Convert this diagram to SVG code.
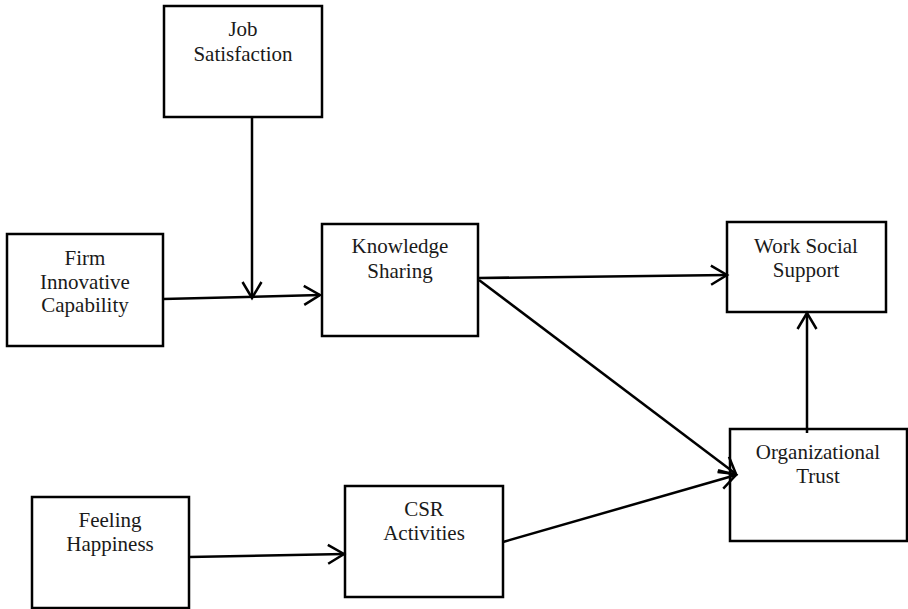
<svg xmlns="http://www.w3.org/2000/svg" width="908" height="609" viewBox="0 0 908 609">
<style>
.box{fill:#fff;stroke:#000;stroke-width:2.5}
.t{font-family:"Liberation Serif","Times New Roman",serif;font-size:21px;fill:#1a1a1a;text-anchor:middle}
.c{fill:none;stroke:#000;stroke-width:2.5}
</style>
<defs>
<marker id="arr" markerWidth="22" markerHeight="22" refX="18" refY="11" orient="auto" markerUnits="userSpaceOnUse">
<path d="M2,1.5 L18,11 L2,20.5" fill="none" stroke="#000" stroke-width="2.5"/>
</marker>
</defs>
<rect width="908" height="609" fill="#fff"/>
<g id="job-satisfaction"><rect class="box" x="164" y="6" width="158" height="111"/><text class="t" x="243" y="36">Job</text><text class="t" x="243" y="61">Satisfaction</text></g>
<g id="firm-innovative-capability"><rect class="box" x="7" y="234" width="156" height="112"/><text class="t" x="85" y="265">Firm</text><text class="t" x="85" y="289">Innovative</text><text class="t" x="85" y="312">Capability</text></g>
<g id="knowledge-sharing"><rect class="box" x="322" y="224" width="156" height="112"/><text class="t" x="400" y="253">Knowledge</text><text class="t" x="400" y="278">Sharing</text></g>
<g id="work-social-support"><rect class="box" x="727" y="222" width="159" height="90"/><text class="t" x="806" y="253">Work Social</text><text class="t" x="806" y="277">Support</text></g>
<g id="organizational-trust"><rect class="box" x="730" y="429" width="177" height="112"/><text class="t" x="818" y="459">Organizational</text><text class="t" x="818" y="483">Trust</text></g>
<g id="feeling-happiness"><rect class="box" x="32" y="497" width="157" height="111"/><text class="t" x="110" y="527">Feeling</text><text class="t" x="110" y="551">Happiness</text></g>
<g id="csr-activities"><rect class="box" x="345" y="486" width="158" height="111"/><text class="t" x="424" y="516">CSR</text><text class="t" x="424" y="540">Activities</text></g>
<g id="connectors">
<line class="c" x1="252" y1="117" x2="252" y2="298" marker-end="url(#arr)"/>
<line class="c" x1="163" y1="299" x2="320" y2="295" marker-end="url(#arr)"/>
<line class="c" x1="479" y1="278" x2="727" y2="275" marker-end="url(#arr)"/>
<line class="c" x1="479" y1="280" x2="736" y2="474" marker-end="url(#arr)"/>
<line class="c" x1="503" y1="542" x2="736" y2="475" marker-end="url(#arr)"/>
<line class="c" x1="189" y1="557" x2="344" y2="554" marker-end="url(#arr)"/>
<line class="c" x1="807" y1="433" x2="807" y2="313" marker-end="url(#arr)"/>
</g>
</svg>
